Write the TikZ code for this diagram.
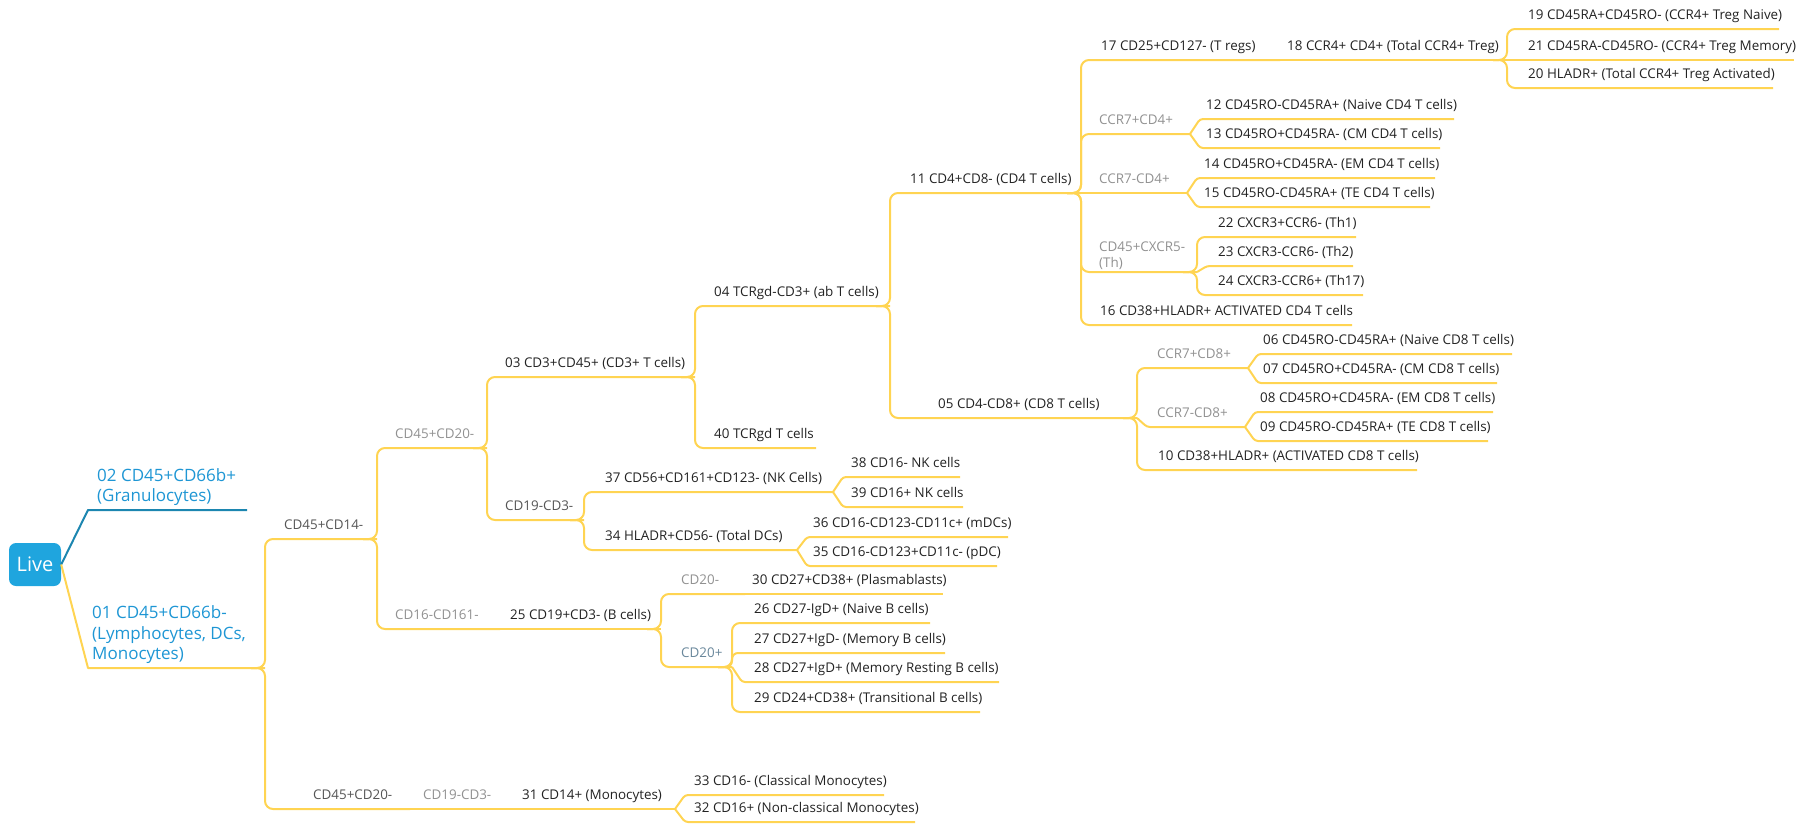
\documentclass[tikz,border=0pt]{standalone}
\usepackage{fontspec}
\setmainfont{Open Sans}
\usetikzlibrary{calc}
\definecolor{lineyel}{RGB}{255,212,82}
\definecolor{lineblue}{RGB}{28,134,176}
\definecolor{liveblue}{RGB}{31,165,222}
\definecolor{txtblue}{RGB}{30,150,212}
\definecolor{txtblack}{RGB}{34,34,34}
\definecolor{txtdark}{RGB}{85,85,85}
\definecolor{txtlight}{RGB}{145,145,145}
\definecolor{txtslate}{RGB}{105,135,155}
\newcommand\lblfont{\fontsize{13.4}{16}\selectfont}
\newcommand\mmNode[6]{\node[lbl,#2] (#1) at (#3,#4-9.5) {#6}; \coordinate (#1e) at (#5,#4);}
\newcommand\mmElbow[3][]{\draw[conn,#1] ($(#2e)+(-14,0)$) -- (#2e) |- (#3e);}
\newcommand\mmDiag[2]{\draw[dconn] (#1e) -- ($(#1e |- #2e)+(10,0)$) -- (#2e);}
\newcommand\mmStraight[2]{\draw[conn] (#1e) -- (#2e);}
\begin{document}
\begin{tikzpicture}[x=1pt,y=-1pt,
  conn/.style={draw=lineyel, line width=2pt, rounded corners=8pt, line join=round},
  dconn/.style={draw=lineyel, line width=2pt, rounded corners=3pt, line join=round},
  bconn/.style={draw=lineblue, line width=2pt, line join=round},
  lbl/.style={anchor=base west, inner sep=0pt, font=\lblfont, text=txtblack},
  dark/.style={text=txtdark},
  light/.style={text=txtlight},
  slate/.style={text=txtslate},
  bluelbl/.style={anchor=south west, inner sep=0pt, align=left, text=txtblue, font=\fontsize{17}{20.5}\selectfont},
  livebox/.style={fill=liveblue, rounded corners=7pt, minimum width=52pt, minimum height=43pt, inner sep=0pt, text=white, font=\fontsize{20}{24}\selectfont}
]
\useasboundingbox (0,0) rectangle (1815,823);

% root
\node[livebox] (live) at (35,564.5) {Live};
\node[bluelbl] (n02) at (97,506) {02 CD45+CD66b+\\(Granulocytes)};
\coordinate (n02e) at (247,510);
\coordinate (k02) at (88,510);
\node[bluelbl] (n01) at (92,664) {01 CD45+CD66b-\\(Lymphocytes, DCs,\\Monocytes)};
\coordinate (n01e) at (265,668);
\coordinate (k01) at (88,668);

% level 2
\mmNode{a1}{dark}{284}{539}{377}{CD45+CD14-}
\mmNode{b1}{dark}{313}{809}{410}{CD45+CD20-}
\mmNode{b2}{light}{423}{809}{508}{CD19-CD3-}
\mmNode{b3}{}{522}{809}{675}{31 CD14+ (Monocytes)}
\mmNode{n33}{}{694}{795}{884}{33 CD16- (Classical Monocytes)}
\mmNode{n32}{}{694}{822}{915}{32 CD16+ (Non-classical Monocytes)}

\mmNode{c1}{light}{395}{448}{487}{CD45+CD20-}
\mmNode{c2}{light}{395}{629}{500}{CD16-CD161-}
\mmNode{c3}{}{510}{629}{661}{25 CD19+CD3- (B cells)}
\mmNode{n03}{}{505}{377}{695}{03 CD3+CD45+ (CD3+ T cells)}
\mmNode{d1}{dark}{505}{520}{584}{CD19-CD3-}

\mmNode{n04}{}{714}{306}{890}{04 TCRgd-CD3+ (ab T cells)}
\mmNode{n40}{}{714}{448}{816}{40 TCRgd T cells}
\mmNode{n11}{}{910}{193}{1081}{11 CD4+CD8- (CD4 T cells)}
\mmNode{n05}{}{938}{418}{1137}{05 CD4-CD8+ (CD8 T cells)}

\mmNode{n17}{}{1101}{60}{1280}{17 CD25+CD127- (T regs)}
\mmNode{n18}{}{1287}{60}{1507}{18 CCR4+ CD4+ (Total CCR4+ Treg)}
\mmNode{n19}{}{1528}{29}{1779}{19 CD45RA+CD45RO- (CCR4+ Treg Naive)}
\mmNode{n21}{}{1528}{60}{1794}{21 CD45RA-CD45RO- (CCR4+ Treg Memory)}
\mmNode{n20}{}{1528}{88}{1773}{20 HLADR+ (Total CCR4+ Treg Activated)}

\mmNode{e1}{light}{1099}{134}{1190}{CCR7+CD4+}
\mmNode{n12}{}{1206}{119}{1454}{12 CD45RO-CD45RA+ (Naive CD4 T cells)}
\mmNode{n13}{}{1206}{148}{1440}{13 CD45RO+CD45RA- (CM CD4 T cells)}
\mmNode{e2}{light}{1099}{193}{1187}{CCR7-CD4+}
\mmNode{n14}{}{1204}{178}{1435}{14 CD45RO+CD45RA- (EM CD4 T cells)}
\mmNode{n15}{}{1204}{207}{1430}{15 CD45RO-CD45RA+ (TE CD4 T cells)}
\node[lbl,light,anchor=south west,align=left,font=\fontsize{13.4}{16}\selectfont] (e3) at (1099,270) {CD45+CXCR5-\\(Th)};
\coordinate (e3e) at (1197,272);
\mmNode{n22}{}{1218}{237}{1356}{22 CXCR3+CCR6- (Th1)}
\mmNode{n23}{}{1218}{266}{1353}{23 CXCR3-CCR6- (Th2)}
\mmNode{n24}{}{1218}{295}{1363}{24 CXCR3-CCR6+ (Th17)}
\mmNode{n16}{}{1100}{325}{1352}{16 CD38+HLADR+ ACTIVATED CD4 T cells}

\mmNode{f1}{light}{1157}{368}{1248}{CCR7+CD8+}
\mmNode{n06}{}{1263}{354}{1512}{06 CD45RO-CD45RA+ (Naive CD8 T cells)}
\mmNode{n07}{}{1263}{383}{1497}{07 CD45RO+CD45RA- (CM CD8 T cells)}
\mmNode{f2}{light}{1157}{427}{1245}{CCR7-CD8+}
\mmNode{n08}{}{1260}{412}{1493}{08 CD45RO+CD45RA- (EM CD8 T cells)}
\mmNode{n09}{}{1260}{441}{1488}{09 CD45RO-CD45RA+ (TE CD8 T cells)}
\mmNode{n10}{}{1158}{470}{1417}{10 CD38+HLADR+ (ACTIVATED CD8 T cells)}

\mmNode{n37}{}{605}{492}{833}{37 CD56+CD161+CD123- (NK Cells)}
\mmNode{n38}{}{851}{477}{960}{38 CD16- NK cells}
\mmNode{n39}{}{851}{507}{963}{39 CD16+ NK cells}
\mmNode{n34}{}{605}{550}{797}{34 HLADR+CD56- (Total DCs)}
\mmNode{n36}{}{813}{537}{1008}{36 CD16-CD123-CD11c+ (mDCs)}
\mmNode{n35}{}{813}{566}{997}{35 CD16-CD123+CD11c- (pDC)}

\mmNode{g1}{light}{681}{594}{745}{CD20-}
\mmNode{n30}{}{752}{594}{943}{30 CD27+CD38+ (Plasmablasts)}
\mmNode{g2}{slate}{681}{667}{732}{CD20+}
\mmNode{n26}{}{754}{623}{930}{26 CD27-IgD+ (Naive B cells)}
\mmNode{n27}{}{754}{653}{945}{27 CD27+IgD- (Memory B cells)}
\mmNode{n28}{}{754}{682}{999}{28 CD27+IgD+ (Memory Resting B cells)}
\mmNode{n29}{}{754}{712}{980}{29 CD24+CD38+ (Transitional B cells)}

% connectors
\draw[bconn] (live.east) -- (k02) -- (n02e);
\draw[conn,rounded corners=0pt] (live.east) -- (k01) -- (n01e);
\mmElbow{n01}{a1}
\mmElbow{n01}{b1}
\mmStraight{b1}{b2}
\mmStraight{b2}{b3}
\mmDiag{b3}{n33}
\mmDiag{b3}{n32}
\mmElbow{a1}{c1}
\mmElbow{a1}{c2}
\mmStraight{c2}{c3}
\mmElbow{c1}{n03}
\mmElbow{c1}{d1}
\mmElbow{n03}{n04}
\mmElbow{n03}{n40}
\mmElbow{n04}{n11}
\mmElbow{n04}{n05}
\mmElbow{n11}{n17}
\mmElbow{n11}{e1}
\mmStraight{n11}{e2}
\mmElbow{n11}{e3}
\mmElbow{n11}{n16}
\mmStraight{n17}{n18}
\mmElbow{n18}{n19}
\mmStraight{n18}{n21}
\mmElbow{n18}{n20}
\mmDiag{e1}{n12}
\mmDiag{e1}{n13}
\mmDiag{e2}{n14}
\mmDiag{e2}{n15}
\mmElbow{e3}{n22}
\mmDiag{e3}{n23}
\mmElbow{e3}{n24}
\mmElbow{n05}{f1}
\mmDiag{n05}{f2}
\mmElbow{n05}{n10}
\mmDiag{f1}{n06}
\mmDiag{f1}{n07}
\mmDiag{f2}{n08}
\mmDiag{f2}{n09}
\mmElbow{d1}{n37}
\mmElbow{d1}{n34}
\mmDiag{n37}{n38}
\mmDiag{n37}{n39}
\mmDiag{n34}{n36}
\mmDiag{n34}{n35}
\mmElbow{c3}{g1}
\mmElbow{c3}{g2}
\mmStraight{g1}{n30}
\mmElbow{g2}{n26}
\mmElbow[rounded corners=6pt]{g2}{n27}
\mmDiag{g2}{n28}
\mmElbow{g2}{n29}
\end{tikzpicture}
\end{document}
